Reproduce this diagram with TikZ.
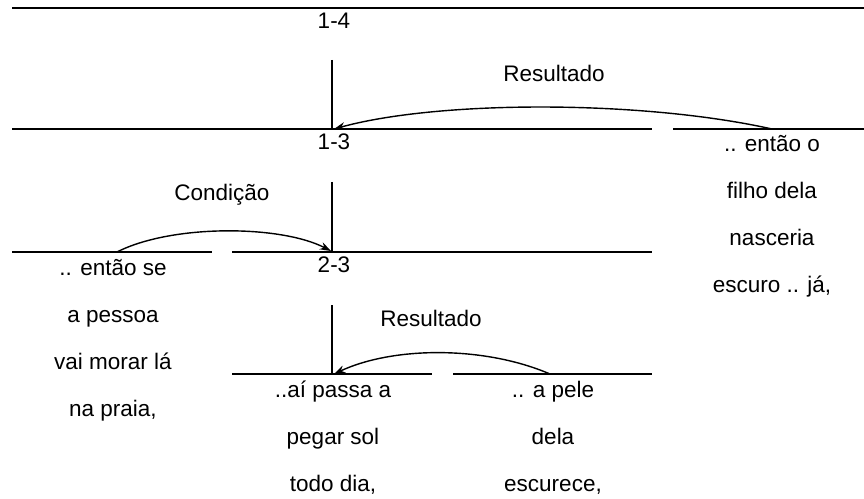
\documentclass[tikz,border=0pt]{standalone}
\usepackage{fontspec}
\usetikzlibrary{arrows.meta}
\setmainfont{Liberation Sans}
\begin{document}
\begin{tikzpicture}[x=0.025cm,y=-0.025cm,
    linha/.style={line width=1.3pt},
    marco/.style={line width=0.8pt},
    seta/.style={line width=1pt,-{Stealth[length=8pt,width=5.5pt]}},
    rot/.style={font=\fontsize{16}{19}\selectfont,anchor=base},
    fala/.style={font=\fontsize{16}{33.4}\selectfont,align=center,anchor=base}]
    \useasboundingbox (0,0) rectangle (864,499);
    % linhas
    \draw[linha] (12,8) -- (864,8);
    \draw[linha] (12,129) -- (652,129);
    \draw[linha] (673,129) -- (864,129);
    \draw[linha] (12,252) -- (212,252);
    \draw[linha] (232,252) -- (652,252);
    \draw[linha] (232,374) -- (432,374);
    \draw[linha] (453,374) -- (652,374);
    % marcos verticais
    \draw[marco] (332,60) -- (332,129);
    \draw[marco] (332,182) -- (332,252);
    \draw[marco] (332,305) -- (332,374);
    % rotulos
    \node[rot] (n14) at (334,29) {1-4};
    \node[rot] (n13) at (334,150) {1-3};
    \node[rot] (n23) at (334,273) {2-3};
    \node[rot] (res1) at (554,82) {Resultado};
    \node[rot] (cond) at (222,200) {Condição};
    \node[rot] (res2) at (431,326) {Resultado};
    % falas (base = ultima linha)
    \node[fala] (entao-o) at (772,292) {.. então o\\filho dela\\nasceria\\escuro .. já,};
    \node[fala] (entao-se) at (113,416) {.. então se\\a pessoa\\vai morar lá\\na praia,};
    \node[fala] (passa) at (333,491) {..aí passa a\\pegar sol\\todo dia,};
    \node[fala] (pele) at (553,491) {.. a pele\\dela\\escurece,};
    % setas
    \coordinate (ini1) at (772,129);
    \coordinate (fim1) at (334,129);
    \coordinate (ini2) at (117,252);
    \coordinate (fim2) at (331,251);
    \coordinate (ini3) at (550,374);
    \coordinate (fim3) at (334,374);
    \draw[seta] (ini1) .. controls +(-130,-29) and +(105,-29) .. (fim1);
    \draw[seta] (ini2) .. controls +(55,-28) and +(-50,-26) .. (fim2);
    \draw[seta] (ini3) .. controls +(-65,-28) and +(60,-28) .. (fim3);
\end{tikzpicture}
\end{document}
